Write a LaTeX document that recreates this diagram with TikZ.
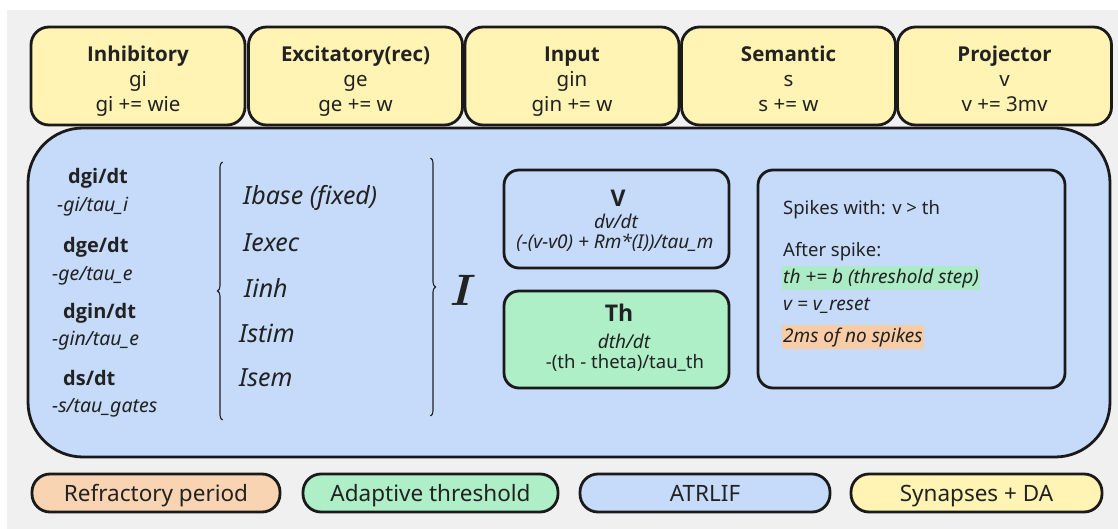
\documentclass[tikz,border=0pt]{standalone}
\usepackage{fontspec}
\setmainfont{Noto Sans}[BoldFont={Open Sans Bold}]
\newfontfamily\lmfont{lmroman10-bolditalic}[Extension=.otf]
\usetikzlibrary{decorations.pathreplacing}
\definecolor{bggray}{HTML}{F0F0F0}
\definecolor{yellowc}{HTML}{FFF4B3}
\definecolor{bluec}{HTML}{C6DBFA}
\definecolor{greenc}{HTML}{AEEFC8}
\definecolor{orangec}{HTML}{F8D4B2}
\definecolor{hlgreen}{HTML}{ABEBC6}
\definecolor{hlorange}{HTML}{F8CCA6}
\definecolor{linec}{HTML}{1A1A1A}
\definecolor{textc}{HTML}{222222}
\newcommand{\firstln}[1]{\vphantom{Ihb}#1}
\newcommand{\lastln}[1]{#1\vphantom{gy}}
\begin{document}
\begin{tikzpicture}[x=1pt,y=-1pt,
  box/.style={draw=linec, line width=2.8pt, inner sep=0pt, text=textc},
  topbox/.style={box, fill=yellowc, rounded corners=18pt, minimum width=214pt, minimum height=98pt},
  toptext/.style={inner sep=0pt, align=center, text=textc, font=\fontsize{20.5}{25}\selectfont},
  innerbox/.style={box, rounded corners=15pt},
  legendbox/.style={box, rounded corners=18pt, minimum height=38pt, text height=16.5pt, text depth=0pt, font=\fontsize{22.5}{25}\selectfont},
  lbold/.style={anchor=west, inner sep=0pt, text=textc, font=\fontsize{20}{22}\selectfont\bfseries},
  lital/.style={anchor=west, inner sep=0pt, text=textc, font=\fontsize{19.5}{22}\selectfont\itshape},
  ilist/.style={anchor=west, inner sep=0pt, text=textc, font=\fontsize{25}{28}\selectfont\itshape},
  sptext/.style={anchor=west, inner sep=0pt, text=textc, font=\fontsize{18.5}{20}\selectfont},
  eqital/.style={inner sep=0pt, text=textc, font=\fontsize{19}{20}\selectfont\itshape},
  title/.style={inner sep=0pt, text=textc, font=\fontsize{23}{24}\selectfont\bfseries},
  hl/.style={anchor=west, inner xsep=1pt, inner ysep=0pt, text height=17pt, text depth=7pt, text=textc, font=\fontsize{19}{20}\selectfont\itshape},
  bracestyle/.style={draw=textc, line width=1.1pt, decorate, decoration={brace, amplitude=5pt}}
]
\useasboundingbox (0,0) rectangle (1118,529);
\fill[bggray] (7,10) rectangle (1118,529);

% main blue container
\node[box, fill=bluec, rounded corners=55pt, minimum width=1082pt, minimum height=329pt] (main) at (569,292.5) {};

% top synapse boxes
\node[topbox] (inh) at (138,76) {};
\node[topbox] (exc) at (355.5,76) {};
\node[topbox] (inp) at (572,76) {};
\node[topbox] (sem) at (788.5,76) {};
\node[topbox] (proj) at (1004.5,76) {};
\node[toptext] (inht) at (138,81) {\firstln{\textbf{Inhibitory}}\\gi\\\lastln{gi += wie}};
\node[toptext] (exct) at (355.5,81) {\firstln{\textbf{Excitatory(rec)}}\\ge\\\lastln{ge += w}};
\node[toptext] (inpt) at (572,81) {\firstln{\textbf{Input}}\\gin\\\lastln{gin += w}};
\node[toptext] (semt) at (788.5,81) {\firstln{\textbf{Semantic}}\\s\\\lastln{s += w}};
\node[toptext] (projt) at (1004.5,81) {\firstln{\textbf{Projector}}\\v\\\lastln{v += 3mv}};

% left column equations
\node[lbold] (dgi) at (68,178) {dgi/dt};
\node[lital] (dgie) at (57,207) {-gi/tau\_i};
\node[lbold] (dge) at (63,247) {dge/dt};
\node[lital] (dgee) at (52,276) {-ge/tau\_e};
\node[lbold] (dgin) at (63,313) {dgin/dt};
\node[lital] (dgine) at (52,341) {-gin/tau\_e};
\node[lbold] (ds) at (63,378) {ds/dt};
\node[lital] (dse) at (52,408) {-s/tau\_gates};

% braces
\coordinate (lb1) at (222.5,420);
\coordinate (lb2) at (222.5,162);
\coordinate (rb1) at (430.5,158);
\coordinate (rb2) at (430.5,416);
\draw[bracestyle] (lb1) -- (lb2);
\draw[bracestyle] (rb1) -- (rb2);

% current list
\node[ilist] (ibase) at (243,198) {Ibase (fixed)};
\node[ilist] (iexec) at (243,243) {Iexec};
\node[ilist] (iinh) at (244,288) {Iinh};
\node[ilist] (istim) at (239,333) {Istim};
\node[ilist] (isem) at (239,378) {Isem};
\node[inner sep=0pt, text=textc, font=\lmfont\fontsize{44}{44}\selectfont] (bigI) at (460,290) {I};

% V box
\node[innerbox, fill=bluec, minimum width=225pt, minimum height=98pt] (vbox) at (616.5,219) {};
\node[title] (vtitle) at (618,198) {V};
\node[eqital] (vdt) at (616,221) {dv/dt};
\node[eqital] (vform) at (615,243) {(-(v-v0) + Rm*(I))/tau\_m};

% Th box
\node[innerbox, fill=greenc, minimum width=225pt, minimum height=97pt] (thbox) at (616.5,339.5) {};
\node[title] (thtitle) at (619,313) {Th};
\node[eqital] (thdt) at (624,341) {dth/dt};
\node[inner sep=0pt, text=textc, font=\fontsize{18.5}{20}\selectfont] (thform) at (625,363) {-(th - theta)/tau\_th};

% spikes box
\node[innerbox, fill=bluec, minimum width=307pt, minimum height=218pt] (spbox) at (911.5,279) {};
\node[sptext] (sp1) at (783,210) {Spikes with: v > th};
\node[sptext] (sp2) at (783,252) {After spike:};
\node[hl, fill=hlgreen] (sp3) at (782,278) {th += b (threshold step)};
\node[sptext, font=\fontsize{19}{20}\selectfont\itshape] (sp4) at (783,306) {v = v\_reset};
\node[hl, fill=hlorange] (sp5) at (782,337) {2ms of no spikes};

% legend
\node[legendbox, fill=orangec, minimum width=248pt] (lref) at (156,493) {Refractory period};
\node[legendbox, fill=greenc, minimum width=255pt] (ladapt) at (430.5,493) {Adaptive threshold};
\node[legendbox, fill=bluec, minimum width=250pt] (latr) at (705,493) {ATRLIF};
\node[legendbox, fill=yellowc, minimum width=251pt] (lsyn) at (976.5,493) {Synapses + DA};
\end{tikzpicture}
\end{document}
